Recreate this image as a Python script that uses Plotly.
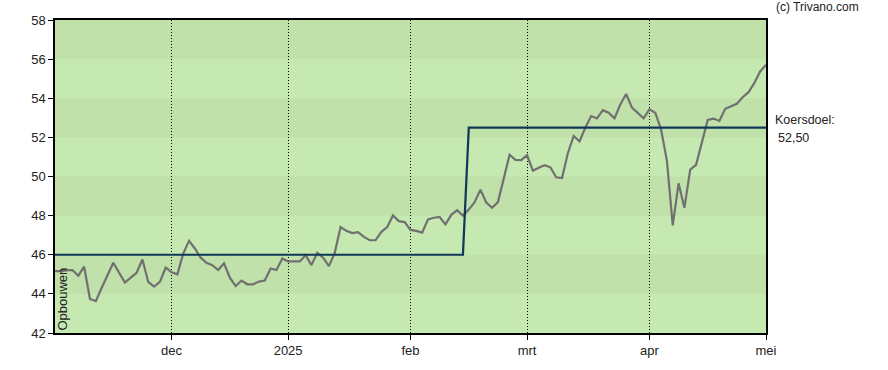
import plotly.graph_objects as go

# ---- data ----
price = [45.16, 45.16, 45.20, 45.22, 44.93, 45.39, 43.74, 43.63, 44.30, 44.95,
         45.59, 45.08, 44.58, 44.83, 45.08, 45.76, 44.61, 44.37, 44.61, 45.35,
         45.10, 45.00, 46.06, 46.71, 46.32, 45.85, 45.59, 45.47, 45.22, 45.56,
         44.83, 44.40, 44.68, 44.49, 44.49, 44.63, 44.68, 45.30, 45.22, 45.81,
         45.66, 45.66, 45.66, 45.98, 45.47, 46.10, 45.85, 45.42, 46.10, 47.42,
         47.22, 47.11, 47.15, 46.91, 46.74, 46.74, 47.17, 47.42, 48.01, 47.72,
         47.67, 47.27, 47.22, 47.13, 47.81, 47.89, 47.93, 47.55, 48.04, 48.28,
         48.00, 48.31, 48.69, 49.33, 48.67, 48.40, 48.69, 49.90, 51.11, 50.85,
         50.84, 51.09, 50.30, 50.45, 50.58, 50.47, 49.96, 49.92, 51.19, 52.07,
         51.79, 52.50, 53.09, 52.97, 53.39, 53.26, 52.97, 53.68, 54.22, 53.52,
         53.26, 52.97, 53.43, 53.26, 52.40, 50.80, 47.50, 49.65, 48.40, 50.35,
         50.60, 51.74, 52.89, 52.96, 52.84, 53.46, 53.57, 53.72, 54.05, 54.31,
         54.78, 55.37, 55.71]
day_index = list(range(len(price)))

target_index = [0, 70, 71, 122]
target_values = [46.0, 46.0, 52.5, 52.5]
target_label = "52,50"

tick_index = [20, 40, 61, 81, 102, 122]
tick_labels = ["dec", "2025", "feb", "mrt", "apr", "mei"]

y_ticks = [42, 44, 46, 48, 50, 52, 54, 56, 58]

# ---- styling ----
FONT = "Liberation Sans, Arial, sans-serif"
LIGHT = "rgb(198,233,177)"
DARK = "rgb(192,225,169)"

fig = go.Figure()

fig.add_trace(go.Scatter(x=day_index, y=price, mode="lines",
                         line=dict(color="rgb(112,112,112)", width=2.2),
                         hoverinfo="skip", showlegend=False))
fig.add_trace(go.Scatter(x=target_index, y=target_values, mode="lines",
                         line=dict(color="rgb(14,55,88)", width=2.2),
                         hoverinfo="skip", showlegend=False))

# alternating horizontal bands
shapes = []
for lo in range(y_ticks[0], y_ticks[-1], 2):
    if (lo - y_ticks[0]) // 2 % 2 == 1:
        shapes.append(dict(type="rect", xref="paper", yref="y", x0=0, x1=1,
                           y0=lo, y1=lo + 2, fillcolor=DARK, line=dict(width=0),
                           layer="below"))

annotations = [
    dict(text="(c) Trivano.com", xref="paper", yref="paper", x=1.011, y=1.04,
         xanchor="left", yanchor="middle", showarrow=False,
         font=dict(family=FONT, size=12, color="#222")),
    dict(text="Koersdoel:", xref="paper", yref="y", x=1.010, y=target_values[-1],
         yshift=8, xanchor="left", yanchor="middle", showarrow=False,
         font=dict(family=FONT, size=12.5, color="#222")),
    dict(text=target_label, xref="paper", yref="y", x=1.014, y=target_values[-1],
         yshift=-10, xanchor="left", yanchor="middle", showarrow=False,
         font=dict(family=FONT, size=12.5, color="#222")),
    dict(text="Opbouwen", xref="paper", yref="y", x=0.011, y=43.75,
         textangle=-90, xanchor="center", yanchor="middle", showarrow=False,
         font=dict(family=FONT, size=13, color="#222")),
]

fig.update_layout(
    width=888, height=370,
    margin=dict(l=55, r=122, t=20, b=35),
    paper_bgcolor="white", plot_bgcolor=LIGHT,
    shapes=shapes, annotations=annotations,
    font=dict(family=FONT, size=13, color="#222"),
    xaxis=dict(range=[0, 122], tickmode="array", tickvals=tick_index,
               ticktext=tick_labels, showgrid=True, gridcolor="black",
               griddash="1px,2px", gridwidth=1, ticks="outside", ticklen=5,
               tickcolor="black", showline=True, linecolor="black",
               linewidth=1.5, mirror=True, zeroline=False,
               tickfont=dict(family=FONT, size=13, color="#222")),
    yaxis=dict(range=[42, 58], tickmode="array", tickvals=y_ticks,
               showgrid=False, ticks="outside", ticklen=5, tickcolor="black",
               showline=True, linecolor="black", linewidth=1.5, mirror=True,
               zeroline=False,
               tickfont=dict(family=FONT, size=13, color="#222")),
)

fig.write_html("out.html")
